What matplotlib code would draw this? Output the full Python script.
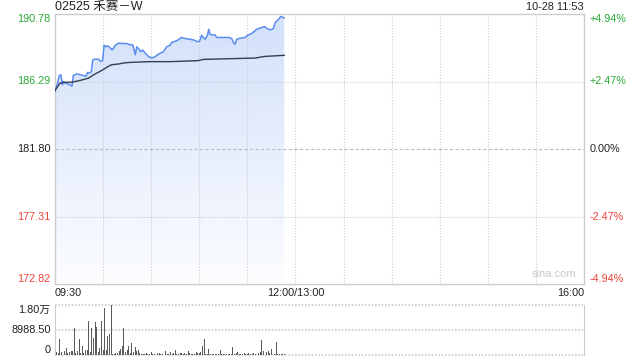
import numpy as np
import matplotlib
matplotlib.use('Agg')
import matplotlib.pyplot as plt
from matplotlib.patches import Polygon
from matplotlib.colors import LinearSegmentedColormap

stock_title = '02525 禾赛－W'
stamp = '10-28 11:53'
price_ticks = [190.78, 186.29, 181.80, 177.31, 172.82]
pct_labels = ['+4.94%', '+2.47%', '0.00%', '-2.47%', '-4.94%']
time_labels = ['09:30', '12:00/13:00', '16:00']
time_label_pos = [0, 150, 330]
session_minutes = 330

# minutes after 09:30
price_minutes = [0, 1.5, 2.7, 3.7, 4.6, 5.2, 6.2, 7.7, 9.4, 10.6, 11.4, 13.5, 15.6, 17.7,
                 19.3, 20.4, 21.4, 22.7, 23.5, 25.0, 27.0, 28.5, 29.7, 30.6, 31.6, 32.7,
                 33.7, 34.7, 35.8, 37.4, 39.5, 41.6, 44.7, 46.8, 48.5, 49.5, 50.1, 51.0,
                 52.0, 53.5, 54.7, 56.2, 58.2, 60.3, 62.4, 64.5, 67.6, 69.7, 71.8, 72.8,
                 75.9, 79.0, 81.1, 84.2, 86.9, 88.4, 90.1, 91.5, 92.5, 93.6, 95.0, 95.9,
                 96.7, 97.8, 99.8, 100.9, 103.0, 108.2, 110.2, 111.3, 112.3, 113.4, 115.4,
                 118.6, 120.2, 122.7, 125.8, 129.0, 130.6, 132.1, 134.2, 136.2, 137.3,
                 139.4, 140.9, 143.0]
price_values = [185.63, 186.13, 186.69, 186.73, 186.07, 186.29, 186.18, 186.13, 186.07,
                185.98, 186.69, 186.79, 186.75, 186.69, 186.64, 186.90, 186.84, 186.95,
                187.72, 187.78, 187.78, 187.63, 187.68, 188.71, 188.60, 188.67, 188.60,
                188.49, 188.40, 188.67, 188.84, 188.82, 188.82, 188.73, 188.73, 188.34,
                188.07, 188.60, 188.49, 188.27, 188.38, 188.18, 187.96, 187.85, 187.94,
                188.11, 188.27, 188.60, 188.71, 188.89, 189.00, 189.22, 189.15, 189.10,
                189.04, 188.95, 188.95, 189.37, 189.22, 189.10, 189.33, 189.76, 189.43,
                189.39, 189.39, 189.22, 189.22, 189.22, 189.15, 188.89, 188.77, 189.10,
                189.17, 189.22, 189.37, 189.48, 189.76, 189.88, 189.94, 189.83, 189.72,
                189.81, 190.21, 190.42, 190.62, 190.52]

avg_minutes = [0, 3.1, 6.2, 10.4, 15.6, 20.8, 25.0, 29.1, 33.3, 35.4, 39.5, 42.6, 46.8,
               59.3, 71.8, 89.4, 92.5, 124.8, 131.0, 143.0]
avg_values = [185.70, 186.18, 186.24, 186.24, 186.36, 186.51, 186.79, 187.02, 187.30,
              187.41, 187.45, 187.52, 187.56, 187.61, 187.61, 187.68, 187.76, 187.85,
              187.96, 188.03]

# one bar per minute from 09:30 to 11:53
volume = [1560, 840, 600, 5630, 840, 3470, 1200, 2520, 600, 840,
          1320, 1440, 9580, 480, 1200, 5630, 600, 3110, 480, 1560,
          1560, 12100, 840, 9580, 6000, 11740, 9940, 840, 2400, 12100,
          1800, 16770, 1560, 6710, 7430, 17977, 360, 360, 720, 480,
          1440, 1920, 3000, 9580, 840, 1560, 3110, 600, 4190, 840,
          2640, 1200, 1800, 480, 240, 360, 240, 720, 360, 360,
          960, 360, 240, 240, 600, 600, 240, 360, 480, 1320,
          240, 360, 960, 240, 600, 1680, 240, 360, 720, 600,
          360, 600, 240, 1200, 480, 240, 240, 360, 960, 480,
          600, 840, 3000, 5750, 240, 360, 2040, 360, 240, 240,
          240, 120, 240, 1680, 360, 240, 240, 240, 120, 240,
          240, 2760, 360, 480, 840, 240, 360, 240, 480, 360,
          240, 600, 240, 360, 600, 240, 360, 600, 960, 5270,
          1440, 2400, 960, 1200, 720, 2040, 1440, 240, 4550, 240,
          240, 120, 120, 120]
vol_ticks = [17977, 8988.5, 0]
vol_labels = ['1.80万', '8988.50', '0']

plt.rcParams['font.family'] = ['Liberation Sans', 'Noto Sans CJK SC']

up_green = '#2aa836'
down_red = '#f0433a'
grid_c = '#cccccc'
tick_colors = [up_green, up_green, '#222222', down_red, down_red]

fig = plt.figure(figsize=(6.4, 3.6), dpi=100)
W, H = 640, 360
ax = fig.add_axes([55 / W, (H - 284) / H, 529 / W, 270 / H])
ax2 = fig.add_axes([55 / W, (H - 354.7) / H, 529 / W, 50 / H])

ymin, ymax = price_ticks[-1], price_ticks[0]

# gradient fill under the price line
verts = list(zip(price_minutes, price_values)) + [(price_minutes[-1], ymin), (price_minutes[0], ymin)]
poly = Polygon(verts, closed=True, facecolor='none', edgecolor='none')
ax.add_patch(poly)
grad = np.linspace(1, 0, 256).reshape(-1, 1)
cmap = LinearSegmentedColormap.from_list('fade', ['#fcfdff', '#d2e0fa'])
im = ax.imshow(grad, cmap=cmap, aspect='auto', origin='upper',
               extent=[0, price_minutes[-1], ymin, ymax], zorder=1)
im.set_clip_path(poly)

for t in range(30, session_minutes, 30):
    ax.axvline(t, color=grid_c, lw=0.8, ls=(0, (1, 1.5)), zorder=2)
for p in price_ticks[1:-1]:
    if p == price_ticks[2]:
        ax.axhline(p, color='#bbbbbb', lw=0.8, ls=(0, (3, 2)), zorder=2)
    else:
        ax.axhline(p, color=grid_c, lw=0.8, ls=(0, (1, 1.5)), zorder=2)

ax.plot(price_minutes, price_values, color='#5b8def', lw=1.1, zorder=4)
ax.plot(avg_minutes, avg_values, color='#333d52', lw=1.0, zorder=4)

ax.set_xlim(0, session_minutes)
ax.set_ylim(ymin, ymax)
ax.set_xticks([])
ax.set_yticks([])
for s in ax.spines.values():
    s.set_color(grid_c)
    s.set_linewidth(1)

ytr = ax.get_yaxis_transform()
for i, (p, lab, c) in enumerate(zip(price_ticks, pct_labels, tick_colors)):
    va = 'top' if i == 0 else ('bottom' if i == len(price_ticks) - 1 else 'center')
    ax.text(-0.008, p, f'{p:.2f}', transform=ytr, ha='right', va=va, color=c, fontsize=7.8)
    ax.text(1.011, p, lab, transform=ytr, ha='left', va=va, color=c, fontsize=7.8)

xtr = ax.get_xaxis_transform()
for t, lab in zip(time_label_pos, time_labels):
    ha = 'left' if t == 0 else ('right' if t == session_minutes else 'center')
    ax.text(t, -0.032, lab, transform=xtr, ha=ha, va='center', color='#222222', fontsize=7.8)

ax.text(0, 1.025, stock_title, transform=ax.transAxes, ha='left', va='center',
        color='#222222', fontsize=9)
ax.text(1, 1.025, stamp, transform=ax.transAxes, ha='right', va='center',
        color='#222222', fontsize=7.8)
ax.text(0.985, 0.02, 'sina.com', transform=ax.transAxes, ha='right', va='bottom',
        color='#c8c8c8', fontsize=8)

# volume panel
ax2.bar(np.arange(len(volume)), volume, width=0.6, color='#5a5a5a', zorder=3)
ax2.set_xlim(0, session_minutes)
ax2.set_ylim(0, vol_ticks[0])
ax2.set_xticks([])
ax2.set_yticks([])
for side in ['top', 'bottom']:
    ax2.spines[side].set_visible(False)
for side in ['left', 'right']:
    ax2.spines[side].set_color(grid_c)
for v in vol_ticks:
    ax2.axhline(v, color=grid_c, lw=1.2, ls=(0, (1, 1)), zorder=2, clip_on=False)
ytr2 = ax2.get_yaxis_transform()
for i, (v, lab) in enumerate(zip(vol_ticks, vol_labels)):
    va = 'top' if i == 0 else ('bottom' if i == len(vol_ticks) - 1 else 'center')
    ax2.text(-0.008, v, lab, transform=ytr2, ha='right', va=va, color='#222222', fontsize=7.8)

fig.savefig('out.png', dpi=100)
